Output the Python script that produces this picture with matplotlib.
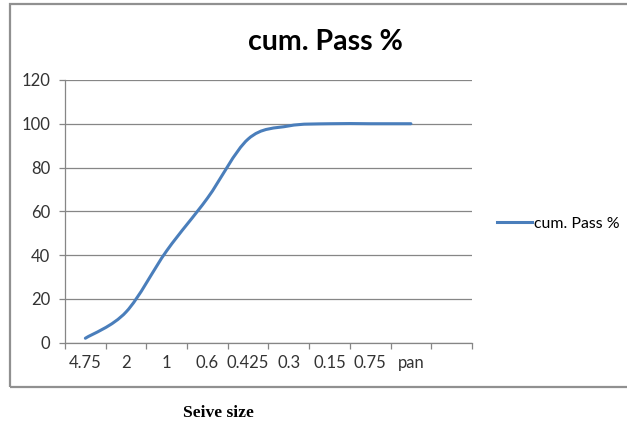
import matplotlib
matplotlib.use("Agg")
import matplotlib.pyplot as plt
from matplotlib.path import Path
from matplotlib.patches import PathPatch, Rectangle
from matplotlib.lines import Line2D

# sieve sizes (last slot is empty, as in the original sheet)
sizes = ["4.75", "2", "1", "0.6", "0.425", "0.3", "0.15", "0.75", "pan", ""]
cum_pass = [2, 14, 42, 66, 93, 99, 100, 100, 100]

blue = "#4A7EBB"
grey = "#868686"
label_col = "#333333"

fig = plt.figure(figsize=(6.27, 4.23), dpi=100)
ax = fig.add_axes([0.1037, 0.190, 0.649, 0.621])

# smoothed line, excel style (bezier segments through each point)
xs = list(range(len(cum_pass)))
ys = cum_pass
verts = [(xs[0], ys[0])]
codes = [Path.MOVETO]
n = len(xs)
for i in range(n - 1):
    x0, y0 = xs[max(i - 1, 0)], ys[max(i - 1, 0)]
    x1, y1 = xs[i], ys[i]
    x2, y2 = xs[i + 1], ys[i + 1]
    x3, y3 = xs[min(i + 2, n - 1)], ys[min(i + 2, n - 1)]
    c1 = (x1 + (x2 - x0) / 6, y1 + (y2 - y0) / 6)
    c2 = (x2 - (x3 - x1) / 6, y2 - (y3 - y1) / 6)
    verts += [c1, c2, (x2, y2)]
    codes += [Path.CURVE4] * 3
ax.add_patch(PathPatch(Path(verts, codes), facecolor="none", edgecolor=blue,
                       lw=2.2, capstyle="round", joinstyle="round", zorder=3))

ax.set_xlim(-0.5, len(sizes) - 0.5)
ax.set_ylim(0, 120)
ax.set_yticks(range(0, 121, 20))
ax.yaxis.grid(True, color=grey, lw=0.9)
ax.set_axisbelow(True)

ax.set_xticks([i - 0.5 for i in range(len(sizes) + 1)], minor=False)
ax.set_xticklabels([])
ax.set_xticks(range(len(sizes)), minor=True)
ax.set_xticklabels(sizes, minor=True)
ax.tick_params(axis="x", which="major", length=4, color=grey, width=0.9)
ax.tick_params(axis="x", which="minor", length=0, pad=9, labelsize=12,
               labelcolor=label_col)
ax.tick_params(axis="y", length=4.5, color=grey, width=0.9, labelsize=12,
               labelcolor=label_col, pad=6)
for lab in ax.get_xticklabels(minor=True) + ax.get_yticklabels():
    lab.set_fontfamily("Lato")

for s in ["top", "right"]:
    ax.spines[s].set_visible(False)
for s in ["left", "bottom"]:
    ax.spines[s].set_color(grey)
    ax.spines[s].set_linewidth(0.9)

# chart frame
fig.patches.append(Rectangle((9.5 / 627, 1 - 386.5 / 423), 1.0, (386.5 - 4.5) / 423,
                             transform=fig.transFigure, fill=False,
                             edgecolor="#909090", lw=1.6))

fig.text(325 / 627, 1 - 42 / 423, "cum. Pass %", ha="center", va="center",
         fontsize=20.5, fontweight="bold", family="Lato")

handle = Line2D([], [], color=blue, lw=2.2)
fig.legend([handle], ["cum. Pass %"], loc="center left",
           bbox_to_anchor=(497 / 627, 1 - 224 / 423), frameon=False,
           handlelength=2.2, handletextpad=0.15, borderaxespad=0,
           borderpad=0, prop={"family": "Lato", "size": 11.4})

fig.text(218 / 627, 1 - 413 / 423, "Seive size", ha="center", va="center",
         fontsize=12.6, fontweight="bold", family="Liberation Serif")

fig.savefig("out.png", dpi=100)
